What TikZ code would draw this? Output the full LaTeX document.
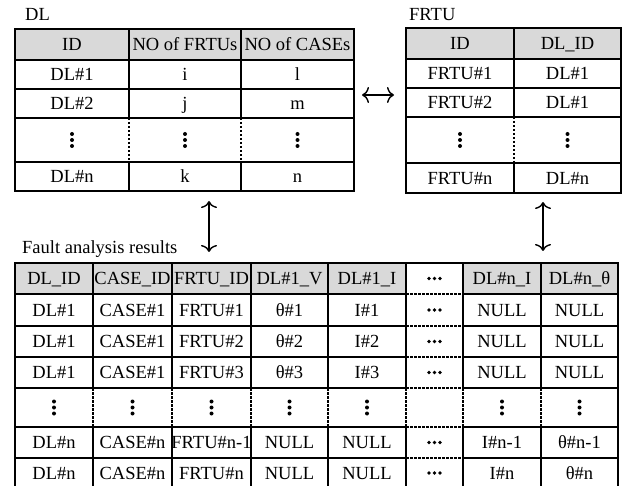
\documentclass[tikz,border=0pt]{standalone}
\usepackage{fontspec}
\setmainfont{Liberation Serif}
\usetikzlibrary{arrows.meta}
\definecolor{headgray}{RGB}{217,217,217}
% three stacked dots / three dots in a row
\newcommand\colDots[2]{\foreach \d in {-6,0,6} {\fill (#1,#2+\d) circle (2pt);}}
\newcommand\rowDots[2]{\foreach \d in {-5.5,0,5.5} {\fill (#1+\d,#2) circle (1.8pt);}}
\begin{document}
\begin{tikzpicture}[x=1pt,y=-1pt,
  cell/.style={anchor=base, inner sep=0pt, font=\fontsize{18.5}{22}\selectfont},
  title/.style={anchor=base west, inner sep=0pt, font=\fontsize{18.5}{22}\selectfont},
  rule/.style={line width=1.4pt},
  border/.style={line width=2pt},
  gap/.style={line width=1.2pt, dash pattern=on 2.5pt off 1.5pt},
  link/.style={line width=1.4pt, {To[length=7pt,width=16pt]}-{To[length=7pt,width=16pt]}}]
\useasboundingbox (0,0) rectangle (624,486);

% ---------------- DL table ----------------
\node[title] (dl-title) at (25,20.5) {DL};
\fill[headgray] (15,29) rectangle (354,60);
\foreach \y in {60,89,118,162} {\draw[rule] (15,\y) -- (354,\y);}
\foreach \x in {129,241} {
  \draw[rule] (\x,29) -- (\x,118);
  \draw[gap] (\x,118) -- (\x,162);
  \draw[rule] (\x,162) -- (\x,191);
}
\draw[border] (15,29) rectangle (354,191);
\foreach \x/\t [count=\c] in {72/ID, 185/NO of FRTUs, 297.5/NO of CASEs}
  {\node[cell] (dl-h-\c) at (\x,50.7) {\t};}
\foreach \x/\t [count=\c] in {72/DL\#1, 185/i, 297.5/l}
  {\node[cell] (dl-1-\c) at (\x,80.7) {\t};}
\foreach \x/\t [count=\c] in {72/DL\#2, 185/j, 297.5/m}
  {\node[cell] (dl-2-\c) at (\x,109.7) {\t};}
\foreach \x in {72,185,297.5} {\colDots{\x}{140}}
\foreach \x/\t [count=\c] in {72/DL\#n, 185/k, 297.5/n}
  {\node[cell] (dl-n-\c) at (\x,182.7) {\t};}

% ---------------- FRTU table ----------------
\node[title] (frtu-title) at (409,20.5) {FRTU};
\fill[headgray] (406,28) rectangle (621,59);
\foreach \y in {59,88,117,163} {\draw[rule] (406,\y) -- (621,\y);}
\draw[rule] (514,28) -- (514,117);
\draw[gap] (514,117) -- (514,163);
\draw[rule] (514,163) -- (514,193);
\draw[border] (406,28) rectangle (621,193);
\foreach \x/\t [count=\c] in {460/ID, 567.5/DL\_ID}
  {\node[cell] (fr-h-\c) at (\x,49.7) {\t};}
\foreach \x/\t [count=\c] in {460/FRTU\#1, 567.5/DL\#1}
  {\node[cell] (fr-1-\c) at (\x,79.7) {\t};}
\foreach \x/\t [count=\c] in {460/FRTU\#2, 567.5/DL\#1}
  {\node[cell] (fr-2-\c) at (\x,108.7) {\t};}
\foreach \x in {460,567.5} {\colDots{\x}{140}}
\foreach \x/\t [count=\c] in {460/FRTU\#n, 567.5/DL\#n}
  {\node[cell] (fr-n-\c) at (\x,184.2) {\t};}

% ---------------- Fault analysis results table ----------------
\node[title] (fa-title) at (22,254) {Fault analysis results};
\fill[headgray] (15,263) rectangle (406,294);
\fill[headgray] (463,263) rectangle (618,294);
\foreach \y in {294,326,357,388,427,458} {
  \draw[rule] (15,\y) -- (406,\y);
  \draw[gap] (406,\y) -- (463,\y);
  \draw[rule] (463,\y) -- (618,\y);
}
\foreach \x in {93,172,251,328,406,463,541} {
  \draw[rule] (\x,263) -- (\x,388);
  \draw[gap] (\x,388) -- (\x,427);
  \draw[rule] (\x,427) -- (\x,488);
}
\draw[border] (15,263) rectangle (618,488);
\foreach \x/\t [count=\c] in {54/DL\_ID, 132.5/CASE\_ID, 211.5/FRTU\_ID, 289.5/DL\#1\_V, 367/DL\#1\_I, 502/DL\#n\_I, 579.5/DL\#n\_θ}
  {\node[cell] (fa-h-\c) at (\x,284.7) {\t};}
\foreach \x/\t [count=\c] in {54/DL\#1, 132.5/CASE\#1, 211.5/FRTU\#1, 289.5/θ\#1, 367/I\#1, 502/NULL, 579.5/NULL}
  {\node[cell] (fa-1-\c) at (\x,316.2) {\t};}
\foreach \x/\t [count=\c] in {54/DL\#1, 132.5/CASE\#1, 211.5/FRTU\#2, 289.5/θ\#2, 367/I\#2, 502/NULL, 579.5/NULL}
  {\node[cell] (fa-2-\c) at (\x,347.7) {\t};}
\foreach \x/\t [count=\c] in {54/DL\#1, 132.5/CASE\#1, 211.5/FRTU\#3, 289.5/θ\#3, 367/I\#3, 502/NULL, 579.5/NULL}
  {\node[cell] (fa-3-\c) at (\x,378.7) {\t};}
\foreach \x in {54,132.5,211.5,289.5,367,502,579.5} {\colDots{\x}{407.5}}
\foreach \x/\t [count=\c] in {54/DL\#n, 132.5/CASE\#n, 211.5/FRTU\#n-1, 289.5/NULL, 367/NULL, 502/I\#n-1, 579.5/θ\#n-1}
  {\node[cell] (fa-m-\c) at (\x,448.7) {\t};}
\foreach \x/\t [count=\c] in {54/DL\#n, 132.5/CASE\#n, 211.5/FRTU\#n, 289.5/NULL, 367/NULL, 502/I\#n, 579.5/θ\#n}
  {\node[cell] (fa-n-\c) at (\x,479.2) {\t};}
\foreach \y in {278.5,310,341.5,372.5,442.5,473} {\rowDots{434.5}{\y}}

% ---------------- links between the tables ----------------
\coordinate (dl-right) at (362,95);
\coordinate (fr-left) at (394,95);
\coordinate (dl-below) at (209,201);
\coordinate (fa-above-dl) at (209,252);
\coordinate (fr-below) at (543,202);
\coordinate (fa-above-fr) at (543,251);
\draw[link] (dl-right) -- (fr-left);
\draw[link] (dl-below) -- (fa-above-dl);
\draw[link] (fr-below) -- (fa-above-fr);
\end{tikzpicture}
\end{document}
